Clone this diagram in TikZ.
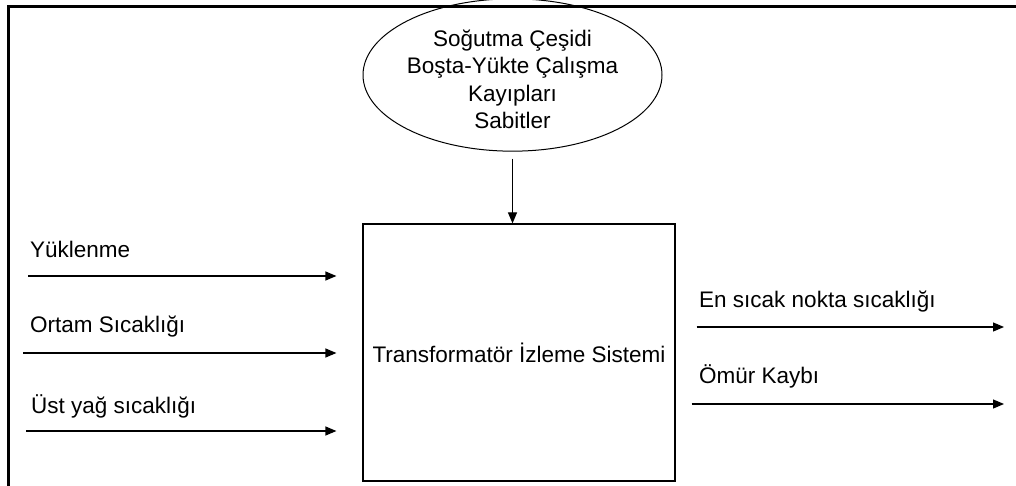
\documentclass[tikz,border=0pt]{standalone}
\usepackage{fontspec}
\setmainfont{Liberation Sans}
\usetikzlibrary{positioning,arrows.meta,shapes.geometric}

\begin{document}
\begin{tikzpicture}[x=1pt,y=-1pt,
  txt/.style={font=\fontsize{22.5}{27.5}\selectfont},
  lbl/.style={txt,anchor=base west,inner sep=0pt},
  flow/.style={line width=1.2pt,-{Triangle[length=11pt,width=9pt]}}]
  \useasboundingbox (0,0) rectangle (1016,486);
  \draw[line width=3pt] (8,492) -- (8,7) -- (1022,7);
  \node[ellipse,draw,line width=1pt,minimum width=299pt,minimum height=130pt,inner sep=0pt,align=center,txt] (cond) at (512.5,75) {\rule{0pt}{25pt}Soğutma Çeşidi\\Boşta-Yükte Çalışma\\Kayıpları\\Sabitler};
  \node[draw,line width=1.2pt,minimum width=312pt,minimum height=257pt,txt] (sys) at (519,352.5) {Transformatör İzleme Sistemi};
  \draw[flow,shorten <=7pt] (cond.south) -- (cond.south |- sys.north);
  \coordinate (in1) at (28,276);
  \coordinate (in2) at (23,353);
  \coordinate (in3) at (26,431);
  \node[lbl] (load) at (30,257) {Yüklenme};
  \node[lbl] (amb) at (30,332) {Ortam Sıcaklığı};
  \node[lbl] (oil) at (31,413) {Üst yağ sıcaklığı};
  \draw[flow,shorten >=26pt] (in1) -- (in1 -| sys.west);
  \draw[flow,shorten >=26pt] (in2) -- (in2 -| sys.west);
  \draw[flow,shorten >=26pt] (in3) -- (in3 -| sys.west);
  \coordinate (out1) at (1004,327);
  \coordinate (out2) at (1004,404);
  \node[lbl] (hot) at (699,307) {En sıcak nokta sıcaklığı};
  \node[lbl] (life) at (699,383) {Ömür Kaybı};
  \draw[flow,shorten <=21pt] (sys.east |- out1) -- (out1);
  \draw[flow,shorten <=16pt] (sys.east |- out2) -- (out2);
\end{tikzpicture}
\end{document}
